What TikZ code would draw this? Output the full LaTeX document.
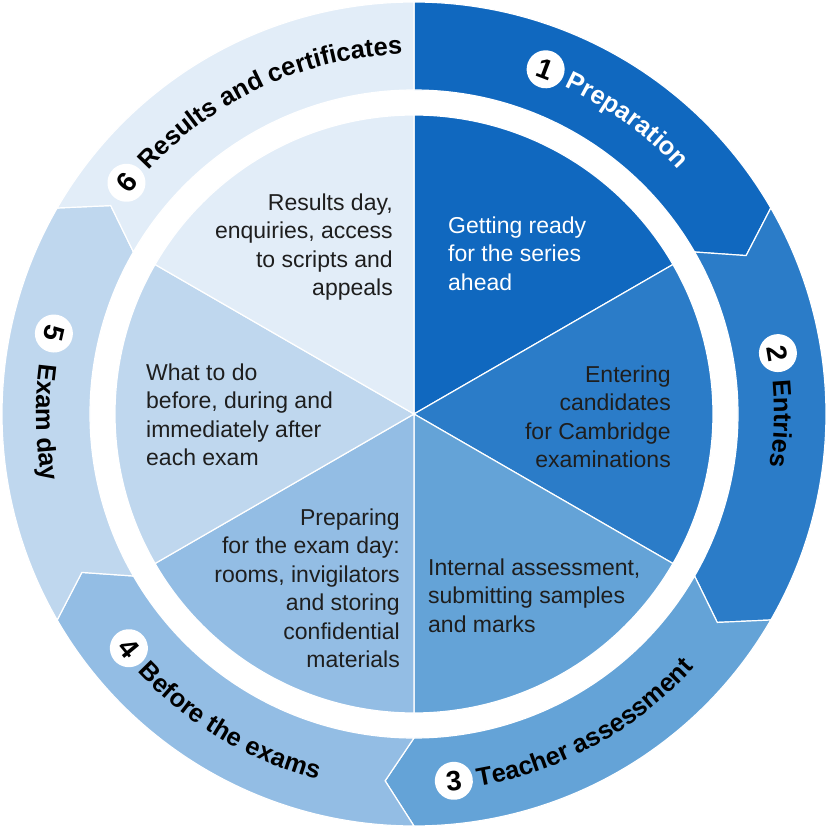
\documentclass[tikz,border=0pt]{standalone}
\usepackage{fontspec}
\setmainfont{Liberation Sans}
\usetikzlibrary{decorations.text}
\definecolor{cA}{HTML}{1068BF}
\definecolor{cB}{HTML}{2B7CC8}
\definecolor{cC}{HTML}{64A3D7}
\definecolor{cD}{HTML}{93BDE4}
\definecolor{cE}{HTML}{BFD7EE}
\definecolor{cF}{HTML}{E2EDF8}
\definecolor{txt}{HTML}{1E1E1E}
\newcommand\lblfont{\fontsize{25.5}{25.5}\selectfont\bfseries}
\tikzset{
  seg/.style={draw=white, line width=1.2pt, line join=miter},
  pietext/.style={font=\fontsize{23}{28.5}\selectfont, inner sep=0pt, text=txt},
  numcirc/.style={circle, fill=white, minimum size=38pt, inner sep=0pt,
    font=\fontsize{28}{28}\selectfont\bfseries, text=black},
}
\begin{document}
\begin{tikzpicture}[x=1pt, y=1pt]
\useasboundingbox (-414,-414) rectangle (414,414);
% outer ring segments
\path[seg, fill=cA] (90:412) arc[start angle=90, end angle=30, radius=412] -- (25.5:368) -- (30:324) arc[start angle=30, end angle=90, radius=324] -- cycle;
\path[seg, fill=cB] (30:412) arc[start angle=30, end angle=-30, radius=412] -- (-34.5:368) -- (-30:324) arc[start angle=-30, end angle=30, radius=324] -- (25.5:368) -- cycle;
\path[seg, fill=cC] (-30:412) arc[start angle=-30, end angle=-90, radius=412] -- (-94.5:368) -- (-90:324) arc[start angle=-90, end angle=-30, radius=324] -- (-34.5:368) -- cycle;
\path[seg, fill=cD] (-90:412) arc[start angle=-90, end angle=-150, radius=412] -- (-154.5:368) -- (-150:324) arc[start angle=-150, end angle=-90, radius=324] -- (-94.5:368) -- cycle;
\path[seg, fill=cE] (-150:412) arc[start angle=-150, end angle=-210, radius=412] -- (-214.5:368) -- (-210:324) arc[start angle=-210, end angle=-150, radius=324] -- (-154.5:368) -- cycle;
\path[seg, fill=cF] (150:412) arc[start angle=150, end angle=90, radius=412] -- (90:324) arc[start angle=90, end angle=150, radius=324] -- (145.5:368) -- cycle;
% inner pie
\path[seg, fill=cA] (0,0) -- (90:299) arc[start angle=90, end angle=30, radius=299] -- cycle;
\path[seg, fill=cB] (0,0) -- (30:299) arc[start angle=30, end angle=-30, radius=299] -- cycle;
\path[seg, fill=cC] (0,0) -- (-30:299) arc[start angle=-30, end angle=-90, radius=299] -- cycle;
\path[seg, fill=cD] (0,0) -- (-90:299) arc[start angle=-90, end angle=-150, radius=299] -- cycle;
\path[seg, fill=cE] (0,0) -- (-150:299) arc[start angle=-150, end angle=-210, radius=299] -- cycle;
\path[seg, fill=cF] (0,0) -- (150:299) arc[start angle=150, end angle=90, radius=299] -- cycle;
% pie texts
\node[pietext, anchor=north west, align=left, text=white] (t1) at (34,197.5) {Getting ready\\for the series\\ahead};
\node[pietext, anchor=north east, align=right] (t2) at (257,48.5) {Entering\\candidates\\for Cambridge\\examinations};
\node[pietext, anchor=north west, align=left] (t3) at (14,-144.5) {Internal assessment,\\submitting samples\\and marks};
\node[pietext, anchor=north east, align=right] (t4) at (-14,-94.5) {Preparing\\for the exam day:\\rooms, invigilators\\and storing\\confidential\\materials};
\node[pietext, anchor=north west, align=left] (t5) at (-268,50.5) {What to do\\before, during and\\immediately after\\each exam};
\node[pietext, anchor=north east, align=right] (t6) at (-21,220.5) {Results day,\\enquiries, access\\to scripts and\\appeals};
% number circles
\node[numcirc, rotate=-20.9] (n1) at (69.1:369) {1};
\node[numcirc, rotate=-80.5] (n2) at (9.5:369) {2};
\node[numcirc, rotate=6.2] (n3) at (-83.8:369) {3};
\node[numcirc, rotate=-50.6] (n4) at (-140.6:369) {4};
\node[numcirc, rotate=-102.6] (n5) at (167.4:369) {5};
\node[numcirc, rotate=51.2] (n6) at (141.2:369) {6};
% curved labels
\path[decorate, decoration={text along path, text={|\lblfont|Preparation}, text color=white}] (65.3:360) arc[start angle=65.3, end angle=20, radius=360];
\path[decorate, decoration={text along path, text={|\lblfont|Entries}, text color=black}] (5.3:360) arc[start angle=5.3, end angle=-40, radius=360];
\path[decorate, decoration={text along path, text={|\lblfont|Teacher assessment}, text color=black}] (-80.2:378) arc[start angle=-80.2, end angle=-20, radius=378];
\path[decorate, decoration={text along path, text={|\lblfont|Before the exams}, text color=black}] (-137:378) arc[start angle=-137, end angle=-80, radius=378];
\path[decorate, decoration={text along path, text={|\lblfont|Exam day}, text color=black}] (172.3:378) arc[start angle=172.3, end angle=220, radius=378];
\path[decorate, decoration={text along path, text={|\lblfont|Results and certificates}, text color=black}] (137.4:360) arc[start angle=137.4, end angle=80, radius=360];
\end{tikzpicture}
\end{document}
